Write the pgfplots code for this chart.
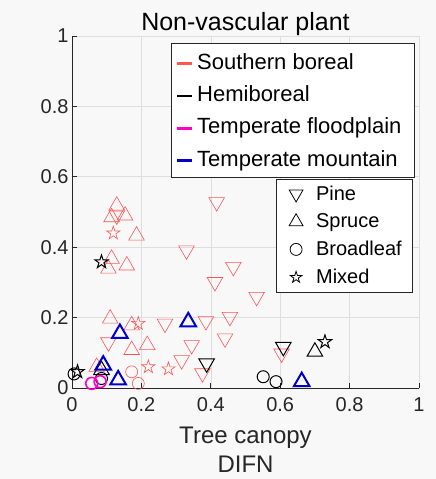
\documentclass[border=0pt]{standalone}
\usepackage{fontspec}
\setmainfont{Liberation Sans}
\usepackage{pgfplots}
\pgfplotsset{compat=1.18}
\definecolor{sbred}{RGB}{255,85,85}
\definecolor{tmblue}{RGB}{0,0,200}
\definecolor{tfmag}{RGB}{255,0,200}
\definecolor{axgray}{RGB}{38,38,38}
\definecolor{bg}{RGB}{248,248,248}
\pgfdeclareplotmark{pentagram}{%
  \pgfpathmoveto{\pgfpointpolar{90}{\pgfplotmarksize}}%
  \pgfpathlineto{\pgfpointpolar{126}{0.382\pgfplotmarksize}}%
  \pgfpathlineto{\pgfpointpolar{162}{\pgfplotmarksize}}%
  \pgfpathlineto{\pgfpointpolar{198}{0.382\pgfplotmarksize}}%
  \pgfpathlineto{\pgfpointpolar{234}{\pgfplotmarksize}}%
  \pgfpathlineto{\pgfpointpolar{270}{0.382\pgfplotmarksize}}%
  \pgfpathlineto{\pgfpointpolar{306}{\pgfplotmarksize}}%
  \pgfpathlineto{\pgfpointpolar{342}{0.382\pgfplotmarksize}}%
  \pgfpathlineto{\pgfpointpolar{18}{\pgfplotmarksize}}%
  \pgfpathlineto{\pgfpointpolar{54}{0.382\pgfplotmarksize}}%
  \pgfpathclose
  \pgfusepathqstroke
}
\pgfplotsset{
  overlay axis/.style={at={(0,0)}, anchor=south west, scale only axis,
    width=347pt, height=352pt, xmin=0, xmax=1, ymin=0, ymax=1},
}
\newcommand{\legline}[2]{{\color{#1}\rule[\dimexpr 5.6pt-#2/2\relax]{15pt}{#2}}\hspace{5pt}}
\begin{document}
\begin{tikzpicture}
\path[use as bounding box, fill=bg] (-72pt,-91pt) rectangle (364pt,388pt);
\begin{axis}[
  overlay axis,
  xtick={0,0.2,0.4,0.6,0.8,1}, ytick={0,0.2,0.4,0.6,0.8,1},
  axis x line*=bottom, axis y line*=left,
  grid=major, grid style={draw=black!13, line width=0.6pt},
  axis line style={draw=axgray, line width=0.8pt},
  tick style={draw=axgray, line width=0.8pt}, tick align=inside, major tick length=5pt,
  ticklabel style={font=\fontsize{20}{24}\selectfont, text=axgray},
  xticklabel style={yshift=-6pt},
  /pgf/number format/assume math mode=true,
  xlabel={Tree canopy\\DIFN},
  xlabel style={align=center, font=\fontsize{24}{29}\selectfont, text=axgray, yshift=-8pt},
  title={Non-vascular plant},
  title style={font=\fontsize{25}{28}\selectfont, text=black, yshift=-9pt},
]
% Southern boreal - Spruce
\addplot[only marks, mark=triangle, mark size=9pt, sbred, line width=0.6pt, forget plot] coordinates {
(0.129,0.518) (0.114,0.485) (0.153,0.49) (0.186,0.433) (0.114,0.367) (0.105,0.339)
(0.158,0.348) (0.110,0.197) (0.172,0.178) (0.172,0.108) (0.217,0.122) (0.071,0.06)
};
% Southern boreal - Pine
\addplot[only marks, mark=triangle, mark size=9pt, mark options={rotate=180}, sbred, line width=0.6pt, forget plot] coordinates {
(0.129,0.49) (0.417,0.528) (0.33,0.391) (0.465,0.344) (0.412,0.301) (0.532,0.259)
(0.268,0.183) (0.386,0.19) (0.455,0.202) (0.441,0.141) (0.345,0.122) (0.316,0.079)
(0.105,0.13) (0.376,0.042) (0.604,0.098)
};
% Southern boreal - Mixed
\addplot[only marks, mark=pentagram, mark size=7pt, sbred, line width=0.6pt, forget plot] coordinates {
(0.119,0.44) (0.191,0.183) (0.22,0.06) (0.278,0.054)
};
% Southern boreal - Broadleaf
\addplot[only marks, mark=o, mark size=6pt, sbred, line width=0.6pt, forget plot] coordinates {
(0.172,0.046) (0.191,0.013)
};
% Hemiboreal
\addplot[only marks, mark=triangle, mark size=9pt, mark options={rotate=180}, black, line width=1pt, forget plot] coordinates {
(0.388,0.07) (0.609,0.117)
};
\addplot[only marks, mark=triangle, mark size=9pt, black, line width=1pt, forget plot] coordinates {
(0.70,0.103) (0.085,0.051)
};
\addplot[only marks, mark=o, mark size=6pt, black, line width=1pt, forget plot] coordinates {
(0.551,0.032) (0.588,0.018) (0.006,0.04) (0.085,0.027)
};
\addplot[only marks, mark=pentagram, mark size=7pt, black, line width=1pt, forget plot] coordinates {
(0.085,0.358) (0.016,0.046) (0.729,0.131)
};
% Temperate floodplain
\addplot[only marks, mark=o, mark size=6pt, tfmag, line width=1.6pt, forget plot] coordinates {
(0.057,0.013) (0.081,0.018)
};
% Temperate mountain
\addplot[only marks, mark=triangle, mark size=9pt, tmblue, line width=2pt, forget plot] coordinates {
(0.138,0.155) (0.335,0.188) (0.09,0.065) (0.133,0.023) (0.662,0.018)
};
\end{axis}
% legend 1 (regions)
\begin{axis}[
  overlay axis, hide axis,
  legend style={at={(0.988,0.981)}, anchor=north east, draw=axgray, fill=white,
    font=\fontsize{22}{25}\selectfont, row sep=11pt, column sep=0pt, inner xsep=4pt, inner ysep=8pt, line width=0.8pt},
  legend cell align=left,
]
\addlegendimage{empty legend}
\addlegendentry{\legline{sbred}{2.2pt}Southern boreal}
\addlegendimage{empty legend}
\addlegendentry{\legline{black}{2.2pt}Hemiboreal}
\addlegendimage{empty legend}
\addlegendentry{\legline{tfmag}{2.6pt}Temperate floodplain\hspace*{7pt}}
\addlegendimage{empty legend}
\addlegendentry{\legline{tmblue}{2.6pt}Temperate mountain}
\end{axis}
% legend 2 (forest types)
\begin{axis}[
  overlay axis, hide axis,
  legend style={at={(0.983,0.595)}, anchor=north east, draw=axgray, fill=white,
    font=\fontsize{20}{24}\selectfont, row sep=8pt, inner xsep=9pt, inner ysep=5pt, line width=0.8pt},
  legend cell align=left,
]
\addlegendimage{legend image code/.code={\path[draw=none] (0pt,-1pt) rectangle (29pt,1pt); \draw[black, line width=0.8pt, mark size=8pt, mark options={rotate=180}] plot[mark=triangle] coordinates {(11pt,0pt)};}}
\addlegendentry{Pine}
\addlegendimage{legend image code/.code={\path[draw=none] (0pt,-1pt) rectangle (29pt,1pt); \draw[black, line width=0.8pt, mark size=8pt] plot[mark=triangle] coordinates {(11pt,0pt)};}}
\addlegendentry{Spruce}
\addlegendimage{legend image code/.code={\path[draw=none] (0pt,-1pt) rectangle (29pt,1pt); \draw[black, line width=0.8pt, mark size=6pt] plot[mark=o] coordinates {(11pt,0pt)};}}
\addlegendentry{Broadleaf}
\addlegendimage{legend image code/.code={\path[draw=none] (0pt,-1pt) rectangle (29pt,1pt); \draw[black, line width=0.8pt, mark size=6pt] plot[mark=pentagram] coordinates {(11pt,0pt)};}}
\addlegendentry{Mixed}
\end{axis}
\end{tikzpicture}
\end{document}
